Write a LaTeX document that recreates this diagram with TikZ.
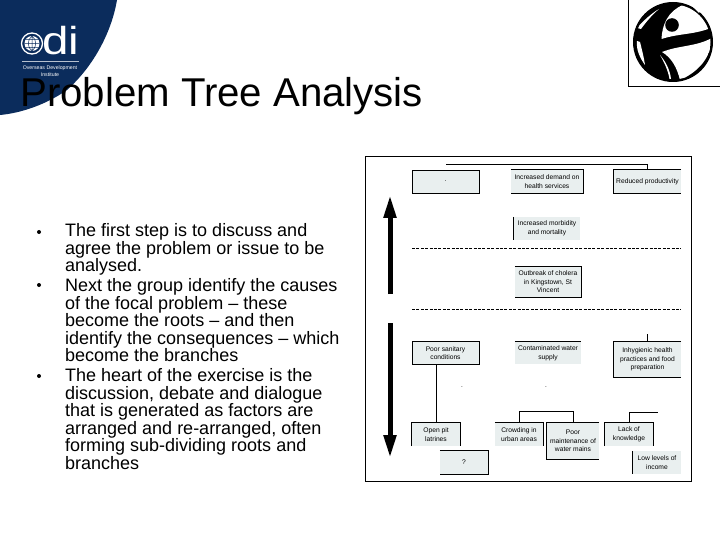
\documentclass[tikz,border=0pt]{standalone}
\usepackage{fontspec}
\setmainfont{Liberation Sans}
\usepackage[svgnames]{xcolor}
\usetikzlibrary{arrows.meta}
\definecolor{odiBlue}{HTML}{0B2C5C}
\definecolor{boxFill}{HTML}{E9EFEF}

\begin{document}
\begin{tikzpicture}[
  x=1pt,
  y=-1pt,
  problem box/.style={
    fill=boxFill,
    inner sep=0pt,
    align=center,
    font=\fontsize{6.7}{8.6}\selectfont,
  },
  wide box/.style={
    problem box,
    minimum width=67pt,
    minimum height=23pt,
  },
  small box/.style={
    problem box,
    minimum width=48pt,
    minimum height=23pt,
  },
  framed/.style={
    draw=black,
    line width=0.8pt,
  },
  edge line/.style={
    draw=black,
    line width=0.8pt,
  },
  level line/.style={
    draw=black,
    line width=0.6pt,
    dash pattern=on 3pt off 1.4pt,
  },
  big arrow/.style={
    line width=5pt,
    -{Triangle[length=23pt,width=12pt]},
  },
  bullet text/.style={
    anchor=north west,
    inner sep=0pt,
    align=left,
    font=\fontsize{18}{17.5}\selectfont,
  },
  bullet mark/.style={
    circle,
    fill=black,
    inner sep=0pt,
    minimum size=4pt,
  },
]
\useasboundingbox (0,0) rectangle (720,540);
\fill[white] (0,0) rectangle (720,540);

% odi corner
\fill[odiBlue] (0,0) -- (117,0) .. controls (112,30) and (95,65) .. (67,90)
  .. controls (47,104) and (22,113) .. (0,115) -- cycle;
\draw[white,line width=1.3pt] (32,43.5) circle (10.5);
\fill[white] (32,43.5) circle (7.5);
\draw[odiBlue,line width=0.5pt] (24.5,43.5) -- (39.5,43.5) (25.5,39.5) -- (38.5,39.5) (25.5,47.5) -- (38.5,47.5)
  (32,36) -- (32,51) (32,36) .. controls (27,40) and (27,47) .. (32,51) (32,36) .. controls (37,40) and (37,47) .. (32,51);
\node[white,inner sep=0pt,anchor=base west,xscale=1.22,transform shape,font=\fontsize{39}{39}\selectfont] (odiLetters) at (42,55) {di};
\draw[white!70!odiBlue,line width=0.5pt] (22,61) -- (79,61);
\node[white,inner sep=0pt,font=\fontsize{5.2}{7.6}\selectfont,align=center] (odiName) at (50,71) {Overseas Development\\Institute};

% title
\node[inner sep=0pt,anchor=base west,font=\fontsize{40.2}{40}\selectfont] (title) at (20,107) {Problem Tree Analysis};

% corner logo
\draw[line width=0.6pt] (628,-1) -- (628,86) -- (721,86);
\fill[black] (673,42) circle (40);
\begin{scope}
\clip (673,42) circle (37.5);
\fill[white] (683,5) .. controls (668,11) and (662,25) .. (661.5,39)
  .. controls (680,33) and (695,35) .. (713,27) .. controls (708,18) and (700,8) .. (683,5) -- cycle;
\fill[white] (662,52) .. controls (680,45) and (695,47) .. (712,38)
  .. controls (711,58) and (698,72) .. (680,80) .. controls (677,68) and (672,58) .. (662,52) -- cycle;
\fill[white] (660,55) .. controls (666,62) and (670,70) .. (671,79) -- (669.5,79) .. controls (668,70) and (664,62) .. (660,55) -- cycle;
\fill[white] (637,28) .. controls (644,20) and (652,13) .. (659,9) .. controls (652,15) and (646,22) .. (641,29) -- cycle;
\fill[white] (637,41) -- (640,42) .. controls (642,50) and (644,58) .. (645,65) .. controls (640,58) and (636,50) .. (637,41) -- cycle;
\end{scope}
\fill[white] (692,6) -- (702,8) -- (699,13) -- cycle;
\fill[black] (672,25) circle (6.8);

% bullets
\node[bullet mark] (firstMark) at (39,232) {};
\node[bullet mark] (secondMark) at (39,285) {};
\node[bullet mark] (thirdMark) at (39,376) {};
\node[bullet text] (firstText) at (65,223.5) {The first step is to discuss and\\agree the problem or issue to be\\analysed.};
\node[bullet text] (secondText) at (65,278.5) {Next the group identify the causes\\of the focal problem -- these\\become the roots -- and then\\identify the consequences -- which\\become the branches};
\node[bullet text] (thirdText) at (65,368.5) {The heart of the exercise is the\\discussion, debate and dialogue\\that is generated as factors are\\arranged and re-arranged, often\\forming sub-dividing roots and\\branches};

% tree
\draw[line width=0.8pt] (365.5,156) rectangle (691.5,481);
\node[wide box,framed] (effect) at (445.5,181.5) {.};
\node[problem box,minimum width=72pt,minimum height=23pt] (demand) at (547,181.5) {Increased demand on\\health services};
\node[wide box] (reduced) at (647.5,181.5) {Reduced productivity};
\node[problem box,minimum width=66pt,minimum height=23pt] (morbidity) at (547,228.5) {Increased morbidity\\and mortality};
\node[problem box,minimum width=66pt,minimum height=30pt] (outbreak) at (548,282) {Outbreak of cholera\\in Kingstown, St\\Vincent};
\node[wide box,framed] (sanitary) at (445.5,353) {Poor sanitary\\conditions};
\node[problem box,minimum width=66pt,minimum height=22pt] (water) at (548,353) {Contaminated water\\supply};
\node[problem box,minimum width=67pt,minimum height=35pt] (hygiene) at (647.5,359.5) {Inhygienic health\\practices and food\\preparation};
\node[small box] (latrines) at (436,434.5) {Open pit\\latrines};
\node[small box] (unknown) at (464,462.5) {?};
\node[small box] (crowding) at (519,434.5) {Crowding in\\urban areas};
\node[problem box,minimum width=52pt,minimum height=36pt] (maintenance) at (573,441) {Poor\\maintenance of\\water mains};
\node[small box] (knowledge) at (629,434.5) {Lack of\\knowledge};
\node[small box] (income) at (657,462.5) {Low levels of\\income};
\node[inner sep=0pt,font=\fontsize{6.4}{8}\selectfont] (dotLeft) at (462,387) {.};
\node[inner sep=0pt,font=\fontsize{6.4}{8}\selectfont] (dotRight) at (546,387) {.};

\draw[edge line] (demand.north west) -- (demand.north east) -- (demand.south east) -- (demand.south west);
\draw[edge line] (reduced.north east) -- (reduced.north west) -- (reduced.south west) -- (reduced.south east);
\draw[edge line] (morbidity.north west) -- (morbidity.south west);
\draw[edge line] (outbreak.north west) -- (outbreak.north east) -- (outbreak.south east) -- (outbreak.south west);
\draw[edge line] (water.north west) -- (water.north east);
\draw[edge line] (hygiene.north east) -- (hygiene.north west) -- (hygiene.south west) -- (hygiene.south east);
\draw[edge line] (latrines.south west) -- (latrines.north west) -- (latrines.north east) -- (latrines.south east);
\draw[edge line] (unknown.north west) -- (unknown.north east) -- (unknown.south east) -- (unknown.south west);
\draw[edge line] (crowding.north west) -- (crowding.north east) -- (crowding.south east);
\draw[edge line] (maintenance.north east) -- (maintenance.north west) -- (maintenance.south west) -- (maintenance.south east);
\draw[edge line] (knowledge.south west) -- (knowledge.north west) -- (knowledge.north east) -- (knowledge.south east);
\draw[edge line] (income.north west) -- (income.south west);

\coordinate (topEnd) at (446,164);
\coordinate (hygieneEnd) at (647.5,334);
\coordinate (knowledgeEnd) at (658,412);
\coordinate (upStart) at (390,294);
\coordinate (upTip) at (390,195);
\coordinate (downStart) at (390,323);
\coordinate (downTip) at (390,458);
\coordinate (lineOneLeft) at (412,248);
\coordinate (lineOneRight) at (681,248);
\coordinate (lineTwoLeft) at (412,309);
\coordinate (lineTwoRight) at (681,309);

\draw[edge line] (topEnd) -| (reduced.north);
\draw[edge line] (hygieneEnd) -- (hygiene.north);
\draw[edge line] (latrines.north |- sanitary.south) -- (latrines.north);
\draw[edge line] (crowding.north) -- ++(0,-11) -| (maintenance.north);
\draw[edge line] (knowledge.north) |- (knowledgeEnd);
\draw[level line] (lineOneLeft) -- (lineOneRight);
\draw[level line] (lineTwoLeft) -- (lineTwoRight);
\draw[big arrow] (upStart) -- (upTip);
\draw[big arrow] (downStart) -- (downTip);
\end{tikzpicture}
\end{document}
